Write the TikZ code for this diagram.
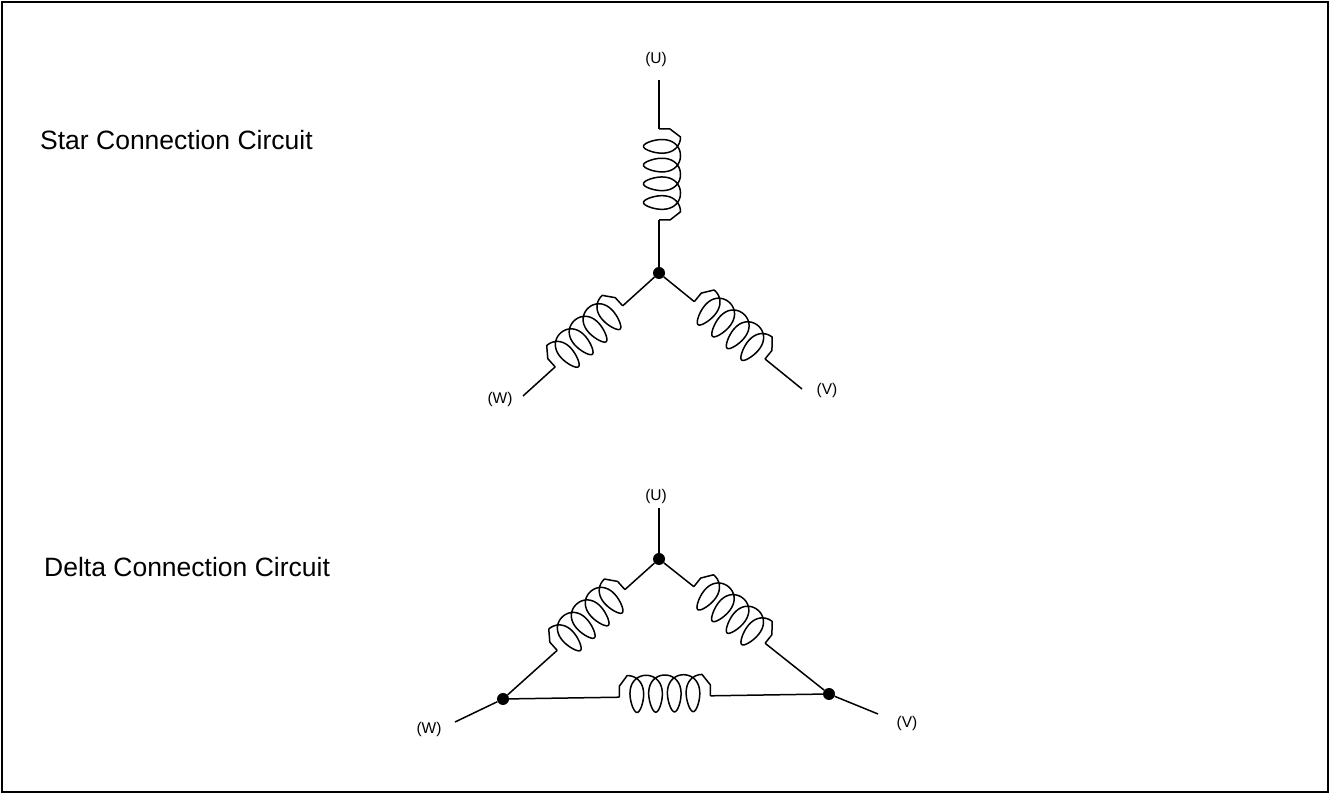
\documentclass[tikz,border=0pt]{standalone}
\usepackage{fontspec}
\setmainfont{Liberation Sans}
\usetikzlibrary{calc}
\begin{document}
\begin{tikzpicture}[x=1pt,y=1pt,
  wire/.style={line width=1.5pt, line join=round},
  junction/.style={circle, fill=black, inner sep=0pt, minimum size=12pt},
  term/.style={inner sep=0pt, font=\fontsize{15.5}{18}\selectfont},
  title/.style={inner sep=0pt, anchor=base west, font=\fontsize{26.5}{30}\selectfont},
  pics/coil/.style={code={
    \draw[wire] (0,0) -- (0,11) -- (8,21.5)
      -- plot[domain=0:8*pi, samples=300, variable=\t] ({8+2.98*\t+11.5*sin(\t r)+1.5*sin(2*\t r)},{3+18.5*cos(\t r)})
      -- (91,11) -- (91,0);
    \coordinate (-s) at (0,0);
    \coordinate (-e) at (91,0);
  }}]
\useasboundingbox (0,0) rectangle (1330,794);
\draw[line width=2pt] (2,2) rectangle (1328,792);

% titles
\node[title] (t1) at (40,644) {Star Connection Circuit};
\node[title] (t2) at (44,217) {Delta Connection Circuit};

% ---------- star ----------
\node[junction] (S) at (659,521) {};
\coordinate (Ut) at (659,714);
\coordinate (Wt) at (523,398);
\coordinate (Vt) at (802,405);
\pic (cu) [rotate=-90] at ($(Ut)!49pt!(S)$) {coil};
\pic (cw) [rotate=42.13] at ($(Wt)!43.4pt!(S)$) {coil};
\pic (cv) [rotate=-39.05] at ($(S)!45.5pt!(Vt)$) {coil};
\draw[wire] (Ut) -- (cu-s);
\draw[wire] (cu-e) -- (S);
\draw[wire] (Wt) -- (cw-s);
\draw[wire] (cw-e) -- (S);
\draw[wire] (S) -- (cv-s);
\draw[wire] (cv-e) -- (Vt);
\node[term] (lu) at (656,734) {(U)};
\node[term] (lw) at (500,395) {(W)};
\node[term] (lv) at (827,404) {(V)};

% ---------- delta ----------
\node[junction] (DU) at (659,235) {};
\node[junction] (DW) at (503,95) {};
\node[junction] (DV) at (829,100) {};
\coordinate (DUt) at (659,286);
\coordinate (DWt) at (455,72);
\coordinate (DVt) at (878,80);
\draw[wire] (DUt) -- (DU);
\draw[wire] (DW) -- (DWt);
\draw[wire] (DV) -- (DVt);
\pic (dw) [rotate=41.91] at ($(DW)!72.8pt!(DU)$) {coil};
\pic (dv) [rotate=-38.46] at ($(DU)!44.5pt!(DV)$) {coil};
\pic (db) [rotate=0.88] at ($(DW)!116.5pt!(DV)$) {coil};
\draw[wire] (DW) -- (dw-s);
\draw[wire] (dw-e) -- (DU);
\draw[wire] (DU) -- (dv-s);
\draw[wire] (dv-e) -- (DV);
\draw[wire] (DW) -- (db-s);
\draw[wire] (db-e) -- (DV);
\node[term] (dlu) at (656,298) {(U)};
\node[term] (dlw) at (429,65) {(W)};
\node[term] (dlv) at (907,71) {(V)};
\end{tikzpicture}
\end{document}
